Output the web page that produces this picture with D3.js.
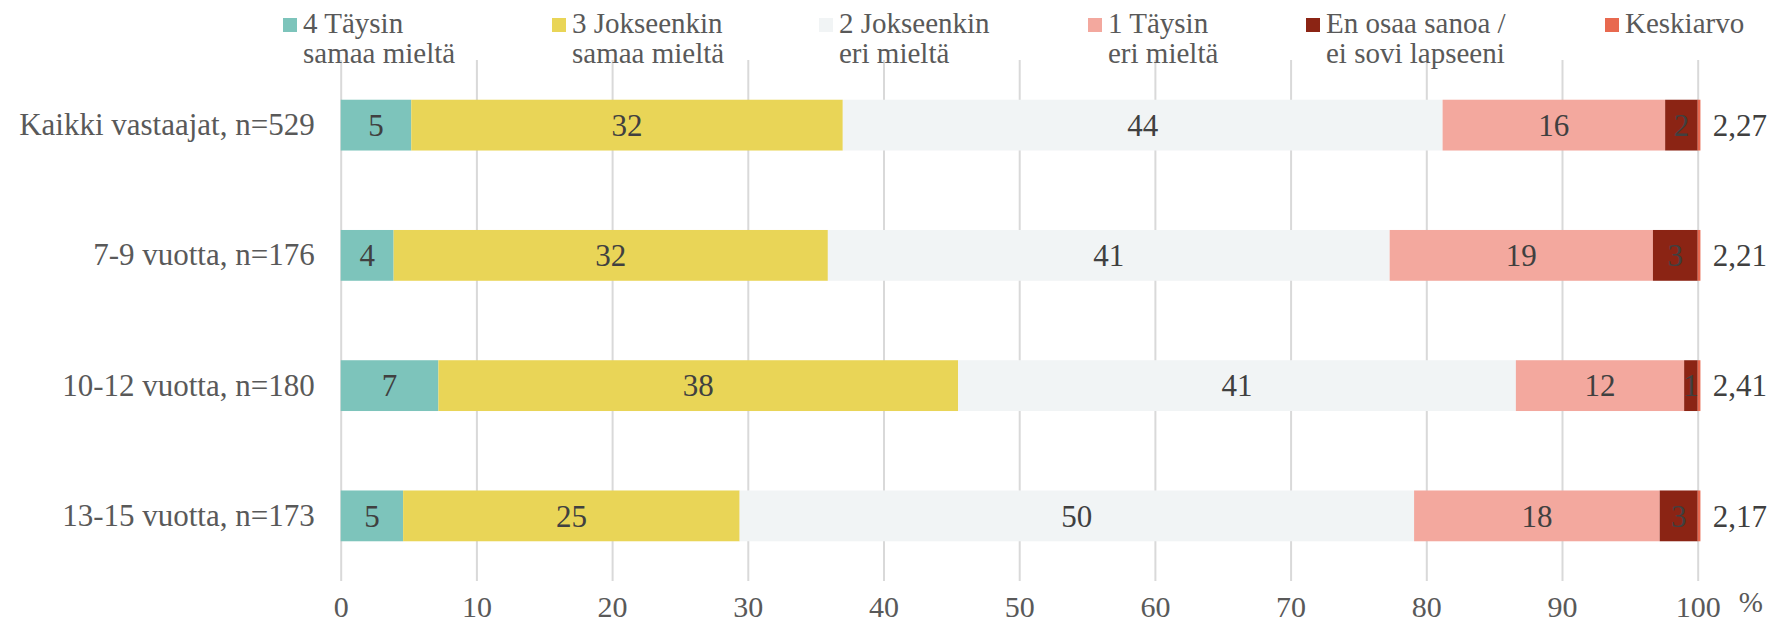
<!DOCTYPE html>
<html>
<head>
<meta charset="utf-8">
<script src="https://cdn.jsdelivr.net/npm/d3@7"></script>
<style>
  html, body { margin: 0; padding: 0; background: #ffffff; }
</style>
</head>
<body>
<svg id="chart" width="1773" height="624"></svg>
<script>
// Answer groups (rows of the chart)
const categories = [
  "Kaikki vastaajat, n=529",
  "7-9 vuotta, n=176",
  "10-12 vuotta, n=180",
  "13-15 vuotta, n=173"
];

// Legend entries, one per stacked series (two text lines each)
const seriesNames = [
  ["4 Täysin", "samaa mieltä"],
  ["3 Jokseenkin", "samaa mieltä"],
  ["2 Jokseenkin", "eri mieltä"],
  ["1 Täysin", "eri mieltä"],
  ["En osaa sanoa /", "ei sovi lapseeni"],
  ["Keskiarvo"]
];

// Shares of answers, % per group
const taysinSamaa      = [5.2, 3.9, 7.2, 4.6];
const jokseenkinSamaa  = [31.8, 32.0, 38.3, 24.8];
const jokseenkinEri    = [44.2, 41.4, 41.1, 49.7];
const taysinEri        = [16.4, 19.4, 12.4, 18.1];
const enOsaaSanoa      = [2.4, 3.3, 1.0, 2.8];
// thin end marker segment standing for the mean series
const keskiarvoMarker  = [0.2, 0.2, 0.2, 0.2];
// mean score per group (scale 1-4)
const keskiarvo        = [2.27, 2.21, 2.41, 2.17];

const xTicks = [0, 10, 20, 30, 40, 50, 60, 70, 80, 90, 100];

const seriesValues = [taysinSamaa, jokseenkinSamaa, jokseenkinEri, taysinEri, enOsaaSanoa, keskiarvoMarker];
const colors = ["#7dc4bb", "#e9d557", "#f1f4f5", "#f3a89e", "#8b2414", "#e8694f"];
const showLabel = [true, true, true, true, true, false];

// Pick the first serif face that is actually installed
const ctx = document.createElement("canvas").getContext("2d");
function pickFont(candidates) {
  const sample = "Kaikki vastaajat, n=529 mieltä 0123456789";
  for (const f of candidates) {
    let found = false;
    for (const base of ["monospace", "sans-serif"]) {
      ctx.font = `30px ${base}`;
      const w0 = ctx.measureText(sample).width;
      ctx.font = `30px "${f}", ${base}`;
      if (Math.abs(ctx.measureText(sample).width - w0) > 0.5) found = true;
    }
    if (found) return `"${f}", serif`;
  }
  return "serif";
}
const FONT = pickFont(["Liberation Serif", "DejaVu Serif Condensed", "DejaVu Serif", "Noto Serif"]);

// Size the type so the longest row label keeps its width
ctx.font = `30px ${FONT}`;
const FS = Math.max(24, Math.min(31, 30 * 303 / ctx.measureText(categories[0]).width));

const svg = d3.select("#chart").style("font-family", FONT);
const W = 1773, H = 624;
const margin = { left: 340.7, right: 75.3, top: 60, bottom: 43 };

const x = d3.scaleLinear().domain([0, 100]).range([margin.left, W - margin.right]);
const y = d3.scaleBand().domain(categories)
  .range([margin.top, H - margin.bottom])
  .paddingInner(0.61).paddingOuter(0.305);

const fi = d3.formatLocale({ decimal: ",", thousands: "\u00a0", grouping: [3], currency: ["", " €"] });
const fmtMean = fi.format(".2f");
const fmtPct = d3.format(".0f");

// Vertical gridlines
const grid = svg.append("g")
  .attr("transform", `translate(0,${H - margin.bottom})`)
  .call(d3.axisBottom(x).tickValues(xTicks).tickSize(-(H - margin.bottom - margin.top)).tickFormat(""));
grid.select(".domain").remove();
grid.selectAll(".tick line").attr("stroke", "#d9d9d9").attr("stroke-width", 2);

// Stacked data
const rows = categories.map((c, i) => {
  const o = { cat: c };
  seriesValues.forEach((s, k) => { o["s" + k] = s[i]; });
  return o;
});
const keys = seriesValues.map((s, k) => "s" + k);
const stacked = d3.stack().keys(keys)(rows);

const layers = svg.append("g").selectAll("g")
  .data(stacked).join("g")
  .attr("fill", (d, k) => colors[k]);

layers.selectAll("rect")
  .data(d => d.map(p => ({ p, cat: p.data.cat })))
  .join("rect")
  .attr("x", d => x(d.p[0]))
  .attr("width", d => x(d.p[1]) - x(d.p[0]))
  .attr("y", d => y(d.cat))
  .attr("height", y.bandwidth());

// Segment value labels
const labelLayers = svg.append("g").attr("font-family", FONT).selectAll("g")
  .data(stacked.filter((d, k) => showLabel[k])).join("g");
labelLayers.selectAll("text")
  .data(d => d.map(p => ({ p, cat: p.data.cat })))
  .join("text")
  .attr("x", d => (x(d.p[0]) + x(d.p[1])) / 2)
  .attr("y", d => y(d.cat) + y.bandwidth() / 2)
  .attr("dy", "0.35em")
  .attr("text-anchor", "middle")
  .attr("font-size", FS)
  .attr("fill", "#404040")
  .text(d => fmtPct(d.p[1] - d.p[0]));

// Mean labels to the right of the bars
svg.append("g").attr("font-family", FONT).selectAll("text")
  .data(categories)
  .join("text")
  .attr("x", x(100) + 15)
  .attr("y", c => y(c) + y.bandwidth() / 2)
  .attr("dy", "0.35em")
  .attr("font-size", FS)
  .attr("fill", "#404040")
  .text((c, i) => fmtMean(keskiarvo[i]));

// Category axis
const yAxis = svg.append("g")
  .attr("transform", `translate(${margin.left - 26},0)`)
  .call(d3.axisLeft(y).tickSize(0).tickPadding(0));
yAxis.attr("font-family", FONT);
yAxis.select(".domain").remove();
yAxis.selectAll("text")
  .attr("font-size", FS)
  .attr("fill", "#595959");

// Value axis
const xAxis = svg.append("g")
  .attr("transform", `translate(0,${H - margin.bottom})`)
  .call(d3.axisBottom(x).tickValues(xTicks).tickSize(0).tickPadding(0).tickFormat(d3.format("d")));
xAxis.attr("font-family", FONT);
xAxis.select(".domain").remove();
xAxis.selectAll("text")
  .attr("font-size", FS - 1)
  .attr("dy", null)
  .attr("y", 36)
  .attr("fill", "#595959");

svg.append("text")
  .attr("x", x(100) + 41)
  .attr("y", H - 12)
  .attr("font-size", FS - 2)
  .attr("fill", "#595959")
  .text("%");

// Legend: swatch + wrapped label, items at fixed horizontal slots
const legendX = [283, 552, 819, 1088, 1306, 1605];
const legendFS = Math.min(29, FS - 2);
const legend = svg.append("g").attr("font-family", FONT);
seriesNames.forEach((lines, k) => {
  const item = legend.append("g").attr("transform", `translate(${legendX[k]},0)`);
  item.append("rect")
    .attr("x", 0).attr("y", 18).attr("width", 14).attr("height", 14)
    .attr("fill", colors[k]);
  const t = item.append("text")
    .attr("font-size", legendFS)
    .attr("fill", "#595959");
  lines.forEach((ln, j) => {
    t.append("tspan").attr("x", 20).attr("y", 33 + j * 29.5).text(ln);
  });
});
</script>
</body>
</html>
